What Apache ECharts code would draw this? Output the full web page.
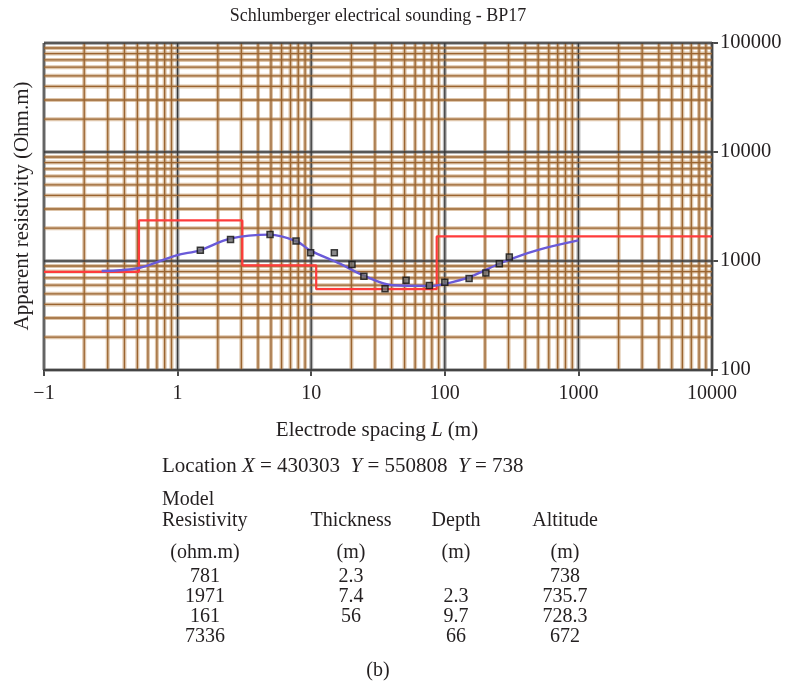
<!DOCTYPE html>
<html>
<head>
<meta charset="utf-8">
<script src="https://cdn.jsdelivr.net/npm/echarts@6/dist/echarts.min.js"></script>
<style>
  html, body { margin: 0; padding: 0; background: #fff; }
  #chart { width: 785px; height: 688px; }
</style>
</head>
<body>
<div id="chart"></div>
<script>
// Schlumberger sounding BP17: field apparent resistivity, fitted curve and layered model
const titleText = 'Schlumberger electrical sounding - BP17';

// Field measurements: electrode spacing L (m) and apparent resistivity (ohm.m)
const measSpacing = [1.48, 2.49, 4.92, 7.7, 9.9, 14.9, 20.2, 24.8, 35.7, 51.3, 76.6, 100, 152, 203, 256, 304];
const measRho     = [1253, 1579, 1754, 1524, 1189, 1189, 929, 724, 557, 665, 596, 638, 690, 776, 946, 1088];

// Computed (fitted) sounding curve
const fitSpacing = [0.27, 0.514, 0.98, 1.47, 2.47, 4.9, 7.8, 9.8, 16.4, 24.5, 41, 77, 103, 154, 274, 487, 1000];
const fitRho     = [810, 863, 1128, 1253, 1603, 1744, 1514, 1253, 946, 740, 599, 591, 621, 714, 979, 1253, 1545];

// Layered model drawn as a step line: boundary spacing and resistivity of the layer that starts there
const modelSpacing = [0.1, 0.514, 3.05, 10.9, 87, 10000];
const modelRho     = [795, 2357, 912, 551, 1680, 1680];

// Axis ranges
const xRange = [0.1, 10000];
const yRange = [100, 100000];

// Model parameters table
const tableHead1 = ['Model'];
const tableHead2 = ['Resistivity', 'Thickness', 'Depth', 'Altitude'];
const tableUnits = ['(ohm.m)', '(m)', '(m)', '(m)'];
const colResistivity = ['781', '1971', '161', '7336'];
const colThickness   = ['2.3', '7.4', '56', ''];
const colDepth       = ['', '2.3', '9.7', '66'];
const colAltitude    = ['738', '735.7', '728.3', '672'];

const locationText = { X: '430303', Y1: '550808', Y2: '738' };

const SERIF = '"Liberation Serif", "DejaVu Serif", serif';
const INK = '#231f20';

// grid line values: 1..9 x each decade inside the range, flag 1 on decades
function logGridValues(min, max) {
  const out = [];
  const e0 = Math.round(Math.log10(min)), e1 = Math.round(Math.log10(max));
  for (let e = e0; e <= e1; e++) {
    for (let m = 1; m <= 9; m++) {
      const v = m * Math.pow(10, e);
      if (v > max * 1.0001) break;
      out.push([v, m === 1 ? 1 : 0]);
    }
  }
  return out;
}

const gridItems = [];
logGridValues(xRange[0], xRange[1]).forEach(([v, d]) => gridItems.push([v, yRange[0], 0, d]));
logGridValues(yRange[0], yRange[1]).forEach(([v, d]) => gridItems.push([xRange[0], v, 1, d]));

function gridRenderer(pass) {
  return function (params, api) {
    const orient = api.value(2), decade = api.value(3);
    let p1, p2;
    if (orient === 0) {
      const v = api.value(0);
      p1 = api.coord([v, yRange[0]]); p2 = api.coord([v, yRange[1]]);
    } else {
      const v = api.value(1);
      p1 = api.coord([xRange[0], v]); p2 = api.coord([xRange[1], v]);
    }
    let style;
    if (pass === 0) {
      style = decade ? { stroke: 'rgba(120,120,120,0.55)', lineWidth: 4 }
                     : { stroke: 'rgba(195,150,100,0.55)', lineWidth: 4 };
    } else {
      style = decade ? { stroke: '#3a3a3a', lineWidth: 1.3 }
                     : { stroke: '#9a6430', lineWidth: 1.3 };
    }
    return { type: 'line', shape: { x1: p1[0], y1: p1[1], x2: p2[0], y2: p2[1] }, style: style, silent: true };
  };
}

const chart = echarts.init(document.getElementById('chart'), null, { renderer: 'canvas' });

const textBase = { fontFamily: SERIF, fontSize: 20, fill: INK };
function label(text, x, y, align, extra) {
  return {
    type: 'text', x: x, y: y, silent: true,
    style: Object.assign({}, textBase, { text: text, textAlign: align || 'left', textVerticalAlign: 'middle' }, extra || {})
  };
}
const richNI = {
  n: { fontFamily: SERIF, fontSize: 21, fill: INK },
  i: { fontFamily: SERIF, fontSize: 21, fontStyle: 'italic', fill: INK }
};

const graphics = [];
graphics.push(label(titleText, 378, 16, 'center', { fontSize: 18 }));
graphics.push({
  type: 'text', x: 22, y: 206, rotation: Math.PI / 2, silent: true,
  style: Object.assign({}, textBase, { text: 'Apparent resistivity (Ohm.m)', fontSize: 21, textAlign: 'center', textVerticalAlign: 'middle' })
});
graphics.push(label('{n|Electrode spacing }{i|L}{n| (m)}', 377, 430, 'center', { rich: richNI }));
graphics.push(label('{n|Location }{i|X}{n| = ' + locationText.X + '  }{i|Y}{n| = ' + locationText.Y1 + '  }{i|Y}{n| = ' + locationText.Y2 + '}',
  162, 466, 'left', { rich: richNI }));

// model table
const colCenters = [205, 351, 456, 565];
graphics.push(label(tableHead1[0], 162, 500, 'left'));
graphics.push(label(tableHead2[0], 162, 521, 'left'));
for (let c = 1; c < tableHead2.length; c++) graphics.push(label(tableHead2[c], colCenters[c], 521, 'center'));
for (let c = 0; c < tableUnits.length; c++) graphics.push(label(tableUnits[c], colCenters[c], 553, 'center'));
const cols = [colResistivity, colThickness, colDepth, colAltitude];
const rowY0 = 577, rowStep = 20;
for (let r = 0; r < colResistivity.length; r++) {
  for (let c = 0; c < cols.length; c++) {
    if (cols[c][r]) graphics.push(label(cols[c][r], colCenters[c], rowY0 + r * rowStep, 'center'));
  }
}
graphics.push(label('(b)', 378, 671, 'center'));

const option = {
  animation: false,
  backgroundColor: '#ffffff',
  grid: { left: 44, right: 73, top: 43, bottom: 318, containLabel: false },
  xAxis: {
    type: 'log', logBase: 10, min: xRange[0], max: xRange[1], splitNumber: 5,
    axisLine: { show: true, onZero: false, lineStyle: { color: '#111', width: 1.5 } },
    axisTick: { show: true, inside: false, length: 6, lineStyle: { color: '#111', width: 1.5 } },
    axisLabel: {
      fontFamily: SERIF, fontSize: 20, color: INK, margin: 14,
      formatter: v => (v < 0.5 ? '\u22121' : String(Math.round(v)))
    },
    splitLine: { show: false }, minorTick: { show: false }, minorSplitLine: { show: false }
  },
  yAxis: {
    type: 'log', logBase: 10, min: yRange[0], max: yRange[1], position: 'right', splitNumber: 3,
    axisLine: { show: true, onZero: false, lineStyle: { color: '#111', width: 1.5 } },
    axisTick: { show: true, inside: false, length: 6, lineStyle: { color: '#111', width: 1.5 } },
    axisLabel: { fontFamily: SERIF, fontSize: 20.5, color: INK, margin: 8, formatter: v => String(Math.round(v)) },
    splitLine: { show: false }
  },
  graphic: graphics,
  series: [
    { type: 'custom', name: 'grid-halo', coordinateSystem: 'cartesian2d', data: gridItems,
      encode: { x: 0, y: 1 }, renderItem: gridRenderer(0), z: 1, silent: true, clip: false },
    { type: 'custom', name: 'grid-core', coordinateSystem: 'cartesian2d', data: gridItems,
      encode: { x: 0, y: 1 }, renderItem: gridRenderer(1), z: 1, silent: true, clip: false },
    { type: 'line', name: 'model', step: 'end', z: 3,
      data: modelSpacing.map((x, i) => [x, modelRho[i]]),
      showSymbol: false, lineStyle: { color: '#ff3b3b', width: 2.2 } },
    { type: 'line', name: 'computed', smooth: 0.35, z: 4,
      data: fitSpacing.map((x, i) => [x, fitRho[i]]),
      showSymbol: false, lineStyle: { color: '#6a5ad8', width: 2.4 } },
    { type: 'scatter', name: 'measured', z: 5,
      data: measSpacing.map((x, i) => [x, measRho[i]]),
      symbol: 'rect', symbolSize: 6,
      itemStyle: { color: '#6d6d6d', borderColor: '#111', borderWidth: 1.5 } }
  ]
};
chart.setOption(option);
</script>
</body>
</html>
